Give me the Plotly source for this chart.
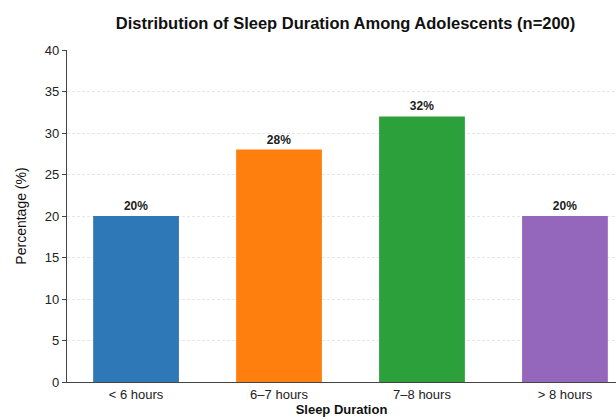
import plotly.graph_objects as go

categories = ["< 6 hours", "6\u20137 hours", "7\u20138 hours", "> 8 hours"]
percentages = [20, 28, 32, 20]
colors = ["#2f78b7", "#ff7f0e", "#2ca03a", "#9467bd"]
y_ticks = [0, 5, 10, 15, 20, 25, 30, 35, 40]

font_family = "Liberation Sans, Arial, sans-serif"

fig = go.Figure(
    go.Bar(
        x=categories,
        y=percentages,
        marker=dict(color=colors, line=dict(width=0)),
        width=0.6,
        text=[f"{v}%" for v in percentages],
        textposition="outside",
        textfont=dict(size=12, color="#222222", family=font_family, weight="bold"),
        cliponaxis=False,
    )
)

fig.update_layout(
    width=616,
    height=420,
    margin=dict(l=67, r=0, t=50, b=38),
    paper_bgcolor="white",
    plot_bgcolor="white",
    font=dict(family=font_family, color="#222222"),
    showlegend=False,
    title=dict(
        text="<b>Distribution of Sleep Duration Among Adolescents (n=200)</b>",
        xref="container",
        x=0.561,
        xanchor="center",
        y=0.945,
        yanchor="middle",
        font=dict(size=16.5, color="#111111"),
    ),
    bargap=0.4,
)

fig.update_xaxes(
    type="category",
    range=[-0.483, 3.357],
    showgrid=False,
    showline=True,
    linecolor="#444444",
    linewidth=1.2,
    ticks="",
    tickfont=dict(size=13, color="#222222"),
    title=dict(text="<b>Sleep Duration</b>", font=dict(size=13, color="#111111"), standoff=2),
)

fig.update_yaxes(
    range=[0, 40],
    tickvals=y_ticks,
    showgrid=True,
    gridcolor="#e6e6e6",
    griddash="3px,2px",
    gridwidth=1,
    showline=True,
    linecolor="#444444",
    linewidth=1.2,
    ticks="outside",
    ticklen=4,
    tickcolor="#444444",
    tickfont=dict(size=13, color="#222222"),
    zeroline=False,
    title=dict(text="Percentage (%)", font=dict(size=14, color="#111111"), standoff=14),
)

fig.write_html("out.html")
